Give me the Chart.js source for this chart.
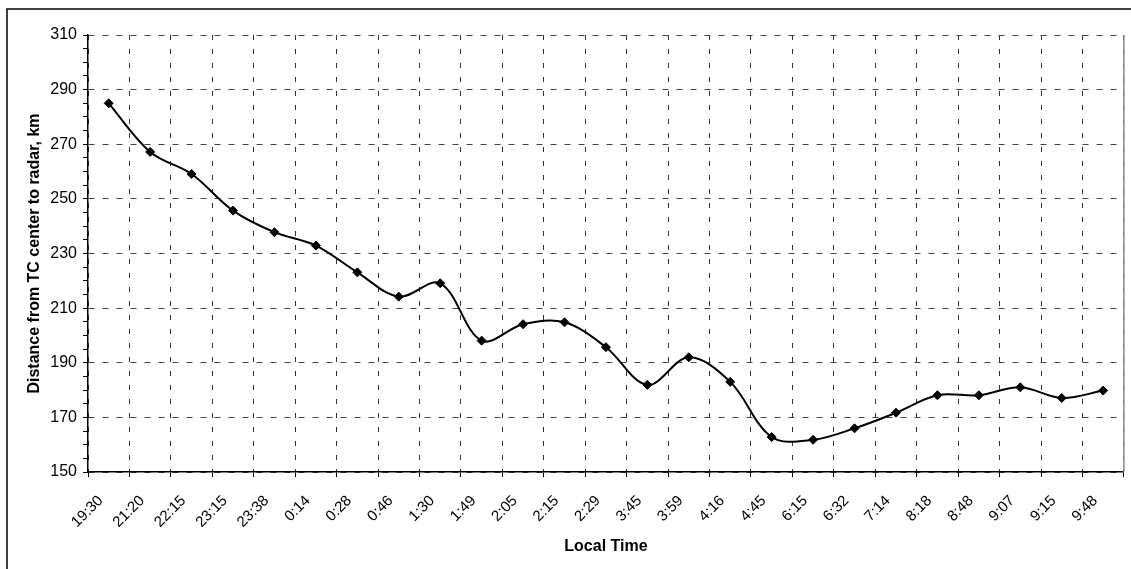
<!DOCTYPE html>
<html><head><meta charset="utf-8">
<script src="https://cdn.jsdelivr.net/npm/chart.js@4"></script>
<style>html,body{margin:0;padding:0;background:#fff;}canvas{display:block}</style>
</head><body>
<canvas id="c" width="1131" height="569"></canvas>
<script>
const localTimes = ['19:30','21:20','22:15','23:15','23:38','0:14','0:28','0:46','1:30','1:49','2:05','2:15','2:29','3:45','3:59','4:16','4:45','6:15','6:32','7:14','8:18','8:48','9:07','9:15','9:48'];
const distanceKm = [285, 267.2, 259.1, 245.7, 237.8, 232.9, 223.1, 214.2, 219.1, 198.1, 204.1, 204.8, 195.7, 181.9, 192, 183, 162.8, 161.8, 166, 171.7, 178.1, 178.1, 181, 177.1, 179.8];
const yMin = 150, yMax = 310, yMajorStep = 20, yMinorStep = 5;
const xTitle = 'Local Time';
const yTitle = 'Distance from TC center to radar, km';

const FONT = '"Liberation Sans", Arial, sans-serif';
const isMajor = (v) => Math.abs((v - yMin) % yMajorStep) < 1e-6;

const framePlugin = {
  id: 'frame',
  beforeDraw(chart) {
    const ctx = chart.ctx;
    ctx.save();
    ctx.fillStyle = '#fff';
    ctx.fillRect(0, 0, chart.width, chart.height);
    ctx.strokeStyle = '#000';
    ctx.lineWidth = 1.5;
    ctx.strokeRect(7, 9, 1400, 900);
    ctx.restore();
  },
  beforeDatasetsDraw(chart) {
    const a = chart.chartArea, ctx = chart.ctx;
    ctx.save();
    ctx.strokeStyle = '#888';
    ctx.lineWidth = 1.5;
    ctx.beginPath();
    ctx.moveTo(a.right, a.top);
    ctx.lineTo(a.right, a.bottom);
    ctx.stroke();
    ctx.restore();
  }
};

new Chart(document.getElementById('c'), {
  type: 'line',
  data: {
    labels: localTimes,
    datasets: [{
      data: distanceKm,
      borderColor: '#000',
      borderWidth: 2,
      backgroundColor: '#000',
      pointStyle: 'rectRot',
      pointRadius: 4.5,
      pointBorderWidth: 1,
      pointBackgroundColor: '#000',
      pointBorderColor: '#000',
      tension: 0.35,
      fill: false,
      clip: false
    }]
  },
  options: {
    responsive: false,
    devicePixelRatio: 1,
    animation: false,
    layout: { padding: { left: 0, right: 3, top: 35, bottom: 0 } },
    plugins: { legend: { display: false }, tooltip: { enabled: false } },
    scales: {
      x: {
        type: 'category',
        offset: true,
        grid: { offset: true, color: '#333', lineWidth: 1, drawTicks: true, tickLength: 5, tickColor: '#000', tickBorderDash: [] },
        border: { display: true, color: '#000', width: 1.5, dash: [5, 9] },
        ticks: { autoSkip: false, minRotation: 45, maxRotation: 45, color: '#000', padding: 15, labelOffset: -8, font: { family: FONT, size: 15 } },
        title: { display: true, text: xTitle, color: '#000', font: { family: FONT, size: 16, weight: 'bold' }, padding: { top: 0, bottom: 13 } },
        afterFit(s) { s.height = 97; }
      },
      y: {
        min: yMin, max: yMax,
        grid: {
          color: (c) => (c.tick && isMajor(c.tick.value)) ? '#444' : 'rgba(0,0,0,0)',
          lineWidth: 1, drawTicks: true, tickLength: 5, tickColor: '#000', tickBorderDash: []
        },
        border: { display: true, color: '#000', width: 1.5, dash: [6, 8] },
        ticks: {
          stepSize: yMinorStep, autoSkip: false, color: '#000', padding: 6,
          font: { family: FONT, size: 16 },
          callback: (v) => (isMajor(v) ? String(v) : '')
        },
        title: { display: true, text: yTitle, color: '#000', font: { family: FONT, size: 16, weight: 'bold' }, padding: { top: 25, bottom: 0 } },
        afterFit(s) { s.width = 88; }
      }
    }
  },
  plugins: [framePlugin]
});
</script>
</body></html>
